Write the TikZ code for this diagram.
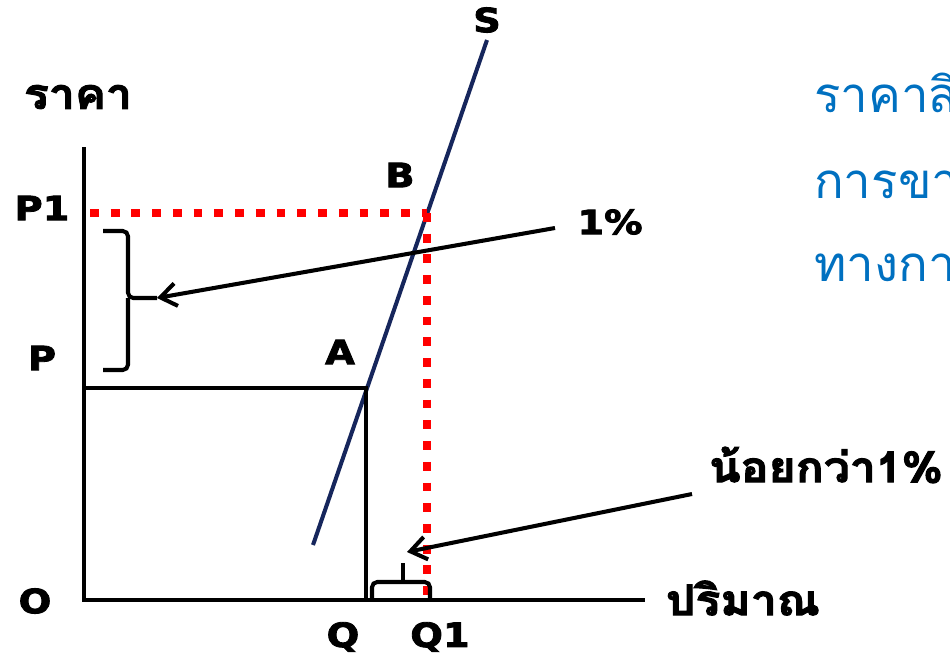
\documentclass[tikz,border=0pt]{standalone}
\usepackage{fontspec}
\setmainfont{DejaVu Sans}
\newfontfamily\heavyfont{DejaVu Sans Bold}[FakeStretch=1.15, FakeBold=2.5]
\newfontfamily\thaiheavy{Loma Bold}[Script=Thai, FakeStretch=1.1, FakeBold=2.5]
\newfontfamily\thaifont{Loma}[Script=Thai]
\usetikzlibrary{arrows.meta, calc, positioning}
\definecolor{supplyblue}{RGB}{22,38,92}
\definecolor{noteblue}{RGB}{0,112,192}
\definecolor{dotred}{RGB}{255,0,0}

\begin{document}
\begin{tikzpicture}[x=0.02cm, y=-0.02cm, >={Straight Barb[length=9pt,width=13pt]},
    axis/.style={line width=2.3pt},
    guide/.style={dotred, line width=5pt, dash pattern=on 5pt off 6.8pt},
    supply/.style={supplyblue, line width=2.3pt},
    lbl/.style={font=\heavyfont\fontsize{19}{19}\selectfont},
    thlbl/.style={font=\thaiheavy\fontsize{24}{24}\selectfont},
    note/.style={noteblue, font=\thaifont\fontsize{28}{28}\selectfont, anchor=west},
    pointer/.style={->, line width=2.3pt},
    brace/.style={line width=2.3pt, rounded corners=3pt}]
    \useasboundingbox (0,0) rectangle (950,663);

    % axes
    \coordinate (O) at (84,600);
    \coordinate (ytop) at (84,147);
    \coordinate (xend) at (645,600);
    \draw[axis] (ytop) -- (O) -- (xend);

    % supply curve
    \coordinate (Slow) at (313,545);
    \coordinate (Shigh) at (487,40);
    \draw[supply] (Slow) -- (Shigh);

    % old and new equilibrium
    \coordinate (Aeq) at (366,388);
    \coordinate (Peq) at (86,388);
    \coordinate (Qeq) at (366,600);
    \draw[axis] (Peq) -- (Aeq) -- (Qeq);

    \coordinate (Beq) at (427,213);
    \coordinate (P1eq) at (90,213);
    \coordinate (Q1eq) at (427,598);
    \draw[guide] (P1eq) -- (Beq);
    \draw[guide] (Beq) -- (Q1eq);

    % braces
    \coordinate (ptip) at (157,298);
    \draw[brace] (103,231) -- (128,231) -- (128,298) -- (ptip);
    \draw[brace] (128,298) -- (128,370) -- (103,370);
    \coordinate (qtip) at (403,563);
    \draw[brace] (372,600) -- (372,582) -- (430,582) -- (430,600);
    \draw[brace] (403,582) -- (qtip);

    % labels
    \node[lbl] (S) at (487,20) {S};
    \node[lbl] (B) at (400,175) {B};
    \node[lbl] (A) at (340,352) {A};
    \node[lbl] (P1) at (42,208) {P1};
    \node[lbl] (P) at (42,358) {P};
    \node[lbl] (O0) at (35,601) {O};
    \node[lbl] (Q) at (343,637) {Q};
    \node[lbl] (Q1) at (440,637) {Q1};
    \node[thlbl] (price) at (78,97) {ราคา};
    \node[thlbl] (qty) at (743,598) {ปริมาณ};
    \node[lbl] (one) at (610,222) {1\%};
    \node[thlbl] (less) at (826,465) {น้อยกว่า1\%};

    % pointers
    \coordinate (onestart) at (555,228);
    \coordinate (lessstart) at (692,494);
    \coordinate (lessend) at (407,552);
    \draw[pointer] (onestart) -- (ptip);
    \draw[pointer] (lessstart) -- (lessend);

    % note text, cut off at the right edge
    \node[note] (n1) at (808,93) {ราคาสิ};
    \node[note] (n2) at (808,185) {การขา};
    \node[note] (n3) at (808,268) {ทางกา};
\end{tikzpicture}
\end{document}
